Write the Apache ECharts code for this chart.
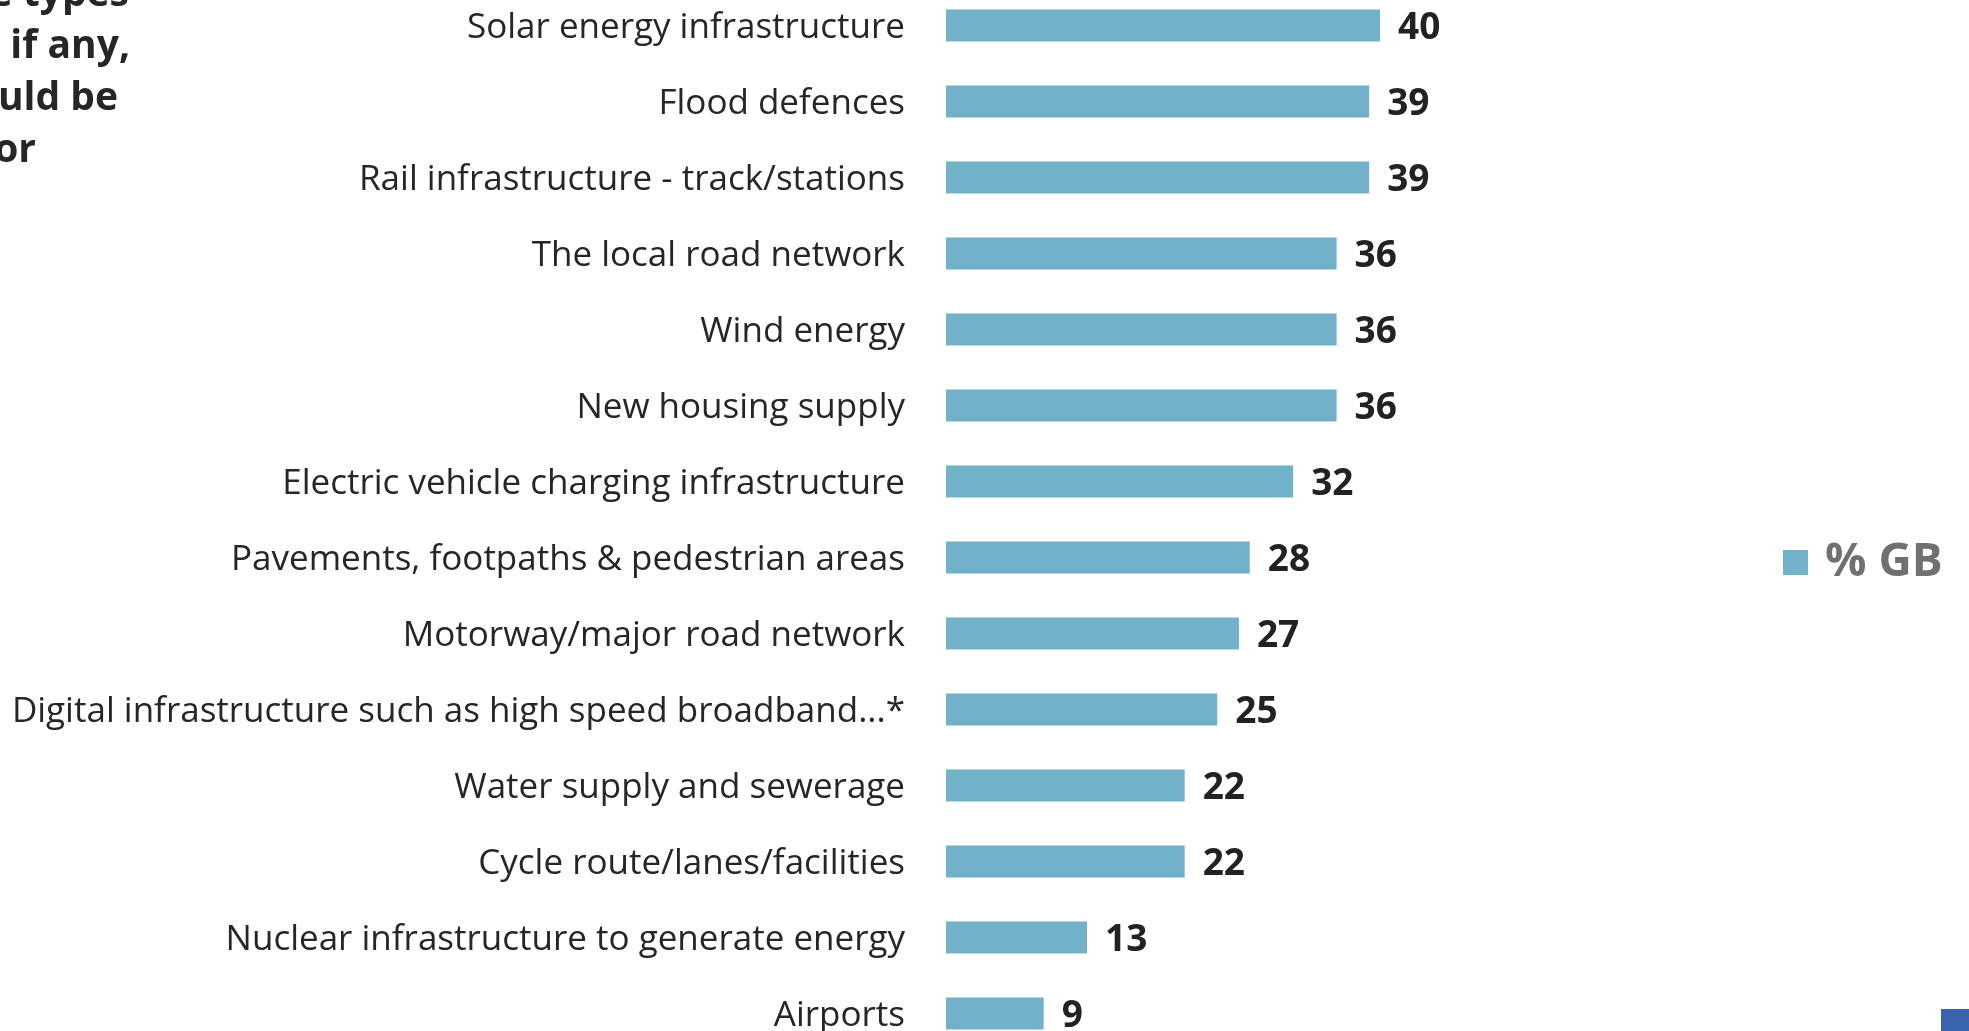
<!DOCTYPE html>
<html>
<head>
<meta charset="utf-8">
<script src="https://cdn.jsdelivr.net/npm/echarts@6/dist/echarts.min.js"></script>
<style>
  html, body { margin: 0; padding: 0; background: #ffffff; overflow: hidden; }
  body { width: 1969px; height: 1031px; position: relative; }
  /* canvas extends a little above and below the page so the first and
     last rows keep the same spacing as the rest */
  #chart { position: absolute; left: 0; top: -13px; width: 1969px; height: 1090px; }
</style>
</head>
<body>
<div id="chart"></div>
<script>
// Infrastructure types people would prioritise (% GB)
const categories = [
  'Solar energy infrastructure',
  'Flood defences',
  'Rail infrastructure - track/stations',
  'The local road network',
  'Wind energy',
  'New housing supply',
  'Electric vehicle charging infrastructure',
  'Pavements, footpaths & pedestrian areas',
  'Motorway/major road network',
  'Digital infrastructure such as high speed broadband...*',
  'Water supply and sewerage',
  'Cycle route/lanes/facilities',
  'Nuclear infrastructure to generate energy',
  'Airports'
];
const gbValues = [40, 39, 39, 36, 36, 36, 32, 28, 27, 25, 22, 22, 13, 9];
const seriesName = '% GB';
const questionLines = [
  'Q. Which of these types',
  'of infrastructure, if any,',
  'do you think should be',
  'prioritised for'
];

const FONT = '"Open Sans", "Noto Sans", sans-serif';
const OFFSET = 13; // canvas starts this many px above the page
const chart = echarts.init(document.getElementById('chart'));

// question text, a left-aligned block running off the left edge
const lineEnds = [129, 130, 118, 36];
const questionText = questionLines.map((line, i) => ({
  type: 'text',
  x: lineEnds[i],
  y: OFFSET - 5 + i * 52,
  style: {
    text: line,
    fill: '#262626',
    font: 'bold 39px ' + FONT,
    align: 'right',
    verticalAlign: 'middle'
  }
}));

chart.setOption({
  backgroundColor: '#ffffff',
  animation: false,
  grid: { left: 946, top: OFFSET - 12.5, width: 542.5, height: 1064 },
  xAxis: {
    type: 'value', min: 0, max: 50,
    show: false
  },
  yAxis: {
    type: 'category',
    data: categories,
    inverse: true,
    axisLine: { show: false },
    axisTick: { show: false },
    splitLine: { show: false },
    axisLabel: {
      margin: 41,
      fontFamily: FONT,
      fontSize: 35,
      color: '#262626',
      // thin line box set just below the row centre: nudges the text down a little
      verticalAlign: 'top',
      lineHeight: 6
    }
  },
  legend: {
    left: 1783,
    top: OFFSET + 539.5,
    padding: 0,
    itemWidth: 25,
    itemHeight: 25,
    icon: 'rect',
    data: [seriesName],
    textStyle: {
      fontFamily: FONT,
      fontSize: 46,
      fontWeight: 'bold',
      color: '#707070',
      lineHeight: 46,
      padding: [0, 0, 0, 12]
    }
  },
  series: [{
    name: seriesName,
    type: 'bar',
    data: gbValues,
    barWidth: 32,
    itemStyle: { color: '#71b1c9' },
    label: {
      show: true,
      position: 'right',
      distance: 18,
      fontFamily: FONT,
      fontSize: 37,
      fontWeight: 'bold',
      color: '#222222',
      offset: [0, 3]
    }
  }],
  graphic: questionText.concat([{
    type: 'rect',
    x: 1941,
    y: OFFSET + 1009,
    shape: { width: 28, height: 22 },
    style: { fill: '#3a64ab' }
  }])
});
</script>
</body>
</html>
